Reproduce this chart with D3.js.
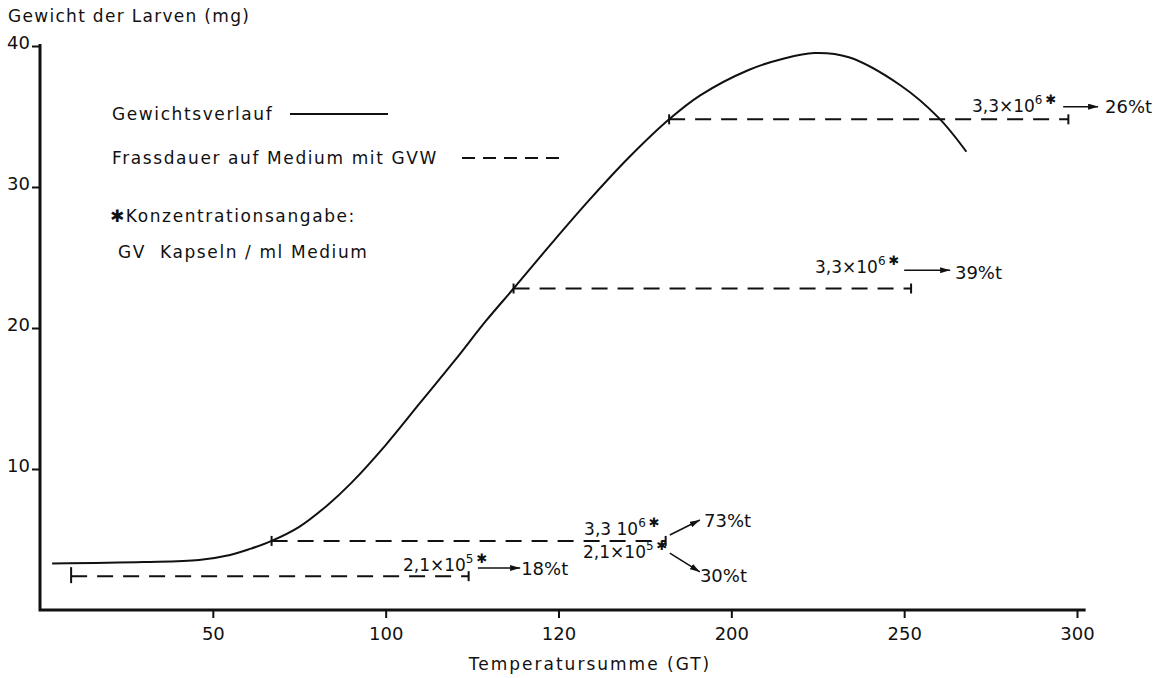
<!DOCTYPE html>
<html>
<head>
<meta charset="utf-8">
<script src="https://cdn.jsdelivr.net/npm/d3@7"></script>
<style>
  body { margin: 0; background: #fff; }
  text { font-family: "DejaVu Sans", sans-serif; fill: #111; }
</style>
</head>
<body>
<div id="chart"></div>
<script>
// weight curve (Temperatursumme, mg)
const curveX = [3.5, 30, 46, 55, 61, 67, 75, 83, 90, 100, 110, 120, 129, 137, 148, 159, 170, 182, 191, 205, 215, 224, 234, 249, 260, 268];
const curveY = [3.3, 3.4, 3.55, 3.9, 4.35, 4.9, 5.9, 7.4, 9.0, 11.7, 14.7, 17.7, 20.5, 22.8, 26.0, 29.1, 32.0, 34.8, 36.5, 38.3, 39.1, 39.5, 39.2, 37.2, 34.9, 32.5];

// feeding periods on medium with GVW
const feedStart = [9, 67, 137, 182];
const feedEnd = [124, 181, 252, 297.5];
const feedLevel = [2.4, 4.9, 22.8, 34.8];

const xTicks = [50, 100, 150, 200, 250, 300];
const xTickLabels = ['50', '100', '120', '200', '250', '300'];
const yTicks = [10, 20, 30, 40];

// concentration labels and mortality results
const concMant = ['2,1×10', '3,3 10', '2,1×10', '3,3×10', '3,3×10'];
const concExp = ['5', '6', '5', '6', '6'];
const resultText = ['18%t', '73%t', '30%t', '39%t', '26%t'];

const W = 1168, H = 678;
const svg = d3.select('#chart').append('svg')
  .attr('width', W).attr('height', H);

const defs = svg.append('defs');
defs.append('marker')
  .attr('id', 'arr')
  .attr('viewBox', '0 0 10 6')
  .attr('refX', 10).attr('refY', 3)
  .attr('markerWidth', 10).attr('markerHeight', 6)
  .attr('markerUnits', 'userSpaceOnUse')
  .attr('orient', 'auto')
  .append('path').attr('d', 'M0,0L10,3L0,6Z').attr('fill', '#111');

const x = d3.scaleLinear().domain([0, 300]).range([40, 1077]);
const y = d3.scaleLinear().domain([0, 40]).range([610, 46]);

// axes
const xAxis = svg.append('g')
  .attr('transform', `translate(0,${y(0)})`)
  .call(d3.axisBottom(x).tickValues(xTicks)
    .tickFormat((d, i) => xTickLabels[i]).tickSize(8).tickSizeOuter(0));
xAxis.select('.domain').remove();
xAxis.selectAll('.tick line').attr('stroke', '#111').attr('stroke-width', 2);
xAxis.selectAll('.tick text').attr('font-size', 18).attr('dy', '1.05em');

const yAxis = svg.append('g')
  .attr('transform', `translate(${x(0)},0)`)
  .call(d3.axisLeft(y).tickValues(yTicks).tickSize(8).tickSizeOuter(0));
yAxis.select('.domain').remove();
yAxis.selectAll('.tick line').attr('stroke', '#111').attr('stroke-width', 2);
yAxis.selectAll('.tick text').attr('font-size', 18).attr('x', -10).attr('dy', '0.15em');

svg.append('path')
  .attr('d', `M${x(0)},${y(40) - 2}L${x(0)},${y(0)}L${x(302.5)},${y(0)}`)
  .attr('fill', 'none').attr('stroke', '#111').attr('stroke-width', 3);

svg.append('text').attr('x', 8).attr('y', 22).attr('font-size', 17).attr('letter-spacing', 1.3)
  .text('Gewicht der Larven (mg)');
svg.append('text').attr('x', 590).attr('y', 670).attr('font-size', 17)
  .attr('text-anchor', 'middle').attr('letter-spacing', 2)
  .text('Temperatursumme (GT)');

// weight curve
const line = d3.line().x((d, i) => x(curveX[i])).y(d => y(d)).curve(d3.curveCatmullRom);
svg.append('path')
  .datum(curveY)
  .attr('d', line)
  .attr('fill', 'none').attr('stroke', '#111').attr('stroke-width', 2);

// feeding periods
const feeds = svg.append('g');
feedStart.forEach((s, i) => {
  const yy = y(feedLevel[i]);
  feeds.append('line')
    .attr('x1', x(s)).attr('x2', x(feedEnd[i])).attr('y1', yy).attr('y2', yy)
    .attr('stroke', '#111').attr('stroke-width', 2).attr('stroke-dasharray', '16,10');
  const h0 = i === 0 ? 9 : 5;
  feeds.append('line')
    .attr('x1', x(s)).attr('x2', x(s)).attr('y1', yy - h0).attr('y2', yy + (i === 0 ? 7 : 5))
    .attr('stroke', '#111').attr('stroke-width', 2);
  feeds.append('line')
    .attr('x1', x(feedEnd[i])).attr('x2', x(feedEnd[i])).attr('y1', yy - 5).attr('y2', yy + 5)
    .attr('stroke', '#111').attr('stroke-width', 2);
});

// legend
const lg = svg.append('g').attr('font-size', 17).attr('letter-spacing', 1.6);
lg.append('text').attr('x', 112).attr('y', 120).text('Gewichtsverlauf');
lg.append('line').attr('x1', 290).attr('x2', 388).attr('y1', 114).attr('y2', 114)
  .attr('stroke', '#111').attr('stroke-width', 2);
lg.append('text').attr('x', 112).attr('y', 164).text('Frassdauer auf Medium mit GVW');
lg.append('line').attr('x1', 462).attr('x2', 562).attr('y1', 158).attr('y2', 158)
  .attr('stroke', '#111').attr('stroke-width', 2).attr('stroke-dasharray', '13,8');
lg.append('text').attr('x', 110).attr('y', 222).text('✱Konzentrationsangabe:');
lg.append('text').attr('x', 118).attr('y', 258).attr('xml:space', 'preserve')
  .text('GV  Kapseln / ml Medium');

// annotations: label position (data units), arrow start/end, result text position
const annX = [105, 157.4, 157.1, 224.2, 269.6];
const annY = [2.77, 5.32, 3.69, 23.9, 35.3];
const arrFrom = [[126.7, 2.98], [182.2, 5.32], [182.2, 4.04], [250, 24.1], [296, 35.7]];
const arrTo = [[138.9, 2.98], [190.9, 6.38], [190.9, 2.7], [263.3, 24.1], [306.1, 35.7]];
const resX = [139.2, 192.1, 190.9, 264.7, 308.1];
const resY = [2.48, 5.89, 1.99, 23.5, 35.25];

annX.forEach((ax, i) => {
  const t = svg.append('text').attr('x', x(ax)).attr('y', y(annY[i])).attr('font-size', 17);
  t.append('tspan').text(concMant[i]);
  t.append('tspan').attr('dy', -8).attr('font-size', 12).text(concExp[i]);
  t.append('tspan').attr('dx', 3).attr('font-size', 13).text('✱');
  svg.append('line')
    .attr('x1', x(arrFrom[i][0])).attr('y1', y(arrFrom[i][1]))
    .attr('x2', x(arrTo[i][0])).attr('y2', y(arrTo[i][1]))
    .attr('stroke', '#111').attr('stroke-width', 1.5).attr('marker-end', 'url(#arr)');
  svg.append('text').attr('x', x(resX[i])).attr('y', y(resY[i])).attr('font-size', 18)
    .text(resultText[i]);
});
</script>
</body>
</html>
